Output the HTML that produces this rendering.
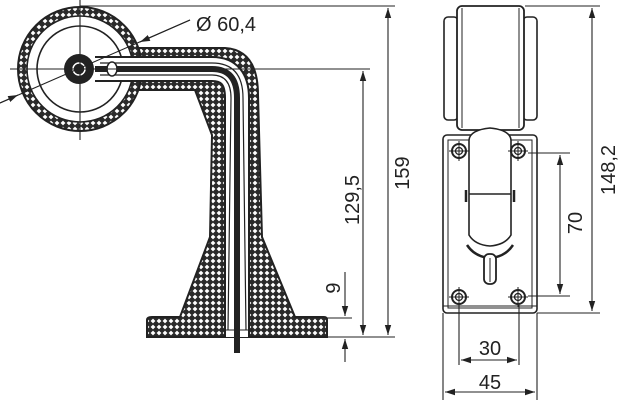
<!DOCTYPE html>
<html><head><meta charset="utf-8"><style>
html,body{margin:0;padding:0;background:#fff;}
svg{display:block;}
text{font-family:"Liberation Sans",Arial,sans-serif;font-size:20px;fill:#222;}
</style></head><body>
<svg width="621" height="400" viewBox="0 0 621 400" xmlns="http://www.w3.org/2000/svg">
<defs>
<pattern id="h" width="6" height="6" patternUnits="userSpaceOnUse">
<rect width="6" height="6" fill="#2a2a2a"/>
<path d="M3 0.6 L5.4 3 L3 5.4 L0.6 3Z" fill="#fff"/>
</pattern>
<marker id="a" markerWidth="10" markerHeight="8" refX="10" refY="4" orient="auto" markerUnits="userSpaceOnUse">
<path d="M0,0.8 L10,4 L0,7.2Z" fill="#222"/></marker>
</defs>
<g stroke="#222" stroke-width="1.3" fill="none">
<path d="M135,48 L225,48 Q258,50 258,95 L262,237 L295,317 L324,317 Q327,317 327,320 L327,337 L147,337 L147,320 Q147,317 152,317 L180,317 L210,237 L212,135 L195,90 L135,90 Z" fill="url(#h)" stroke-width="2"/>
<circle cx="80" cy="69" r="62" fill="url(#h)" stroke-width="2"/>
<circle cx="80" cy="69" r="53" fill="#fff" stroke-width="1.6"/>
<circle cx="80" cy="69" r="43" stroke-width="1.6"/>
<path d="M95,69 L212,69 Q237,69 237,98 L237,337" stroke="#222" stroke-width="26"/>
<path d="M95,69 L212,69 Q237,69 237,98 L237,337" stroke="#fff" stroke-width="22"/>
<path d="M100,63 L212,63 Q243,63 243,98 L246,330" stroke-width="1.2"/>
<path d="M100,75 L212,75 Q231,75 231,98 L228,330" stroke-width="1.2"/>
<path d="M95,69 L212,69 Q237,69 237,98 L237,353" stroke="#222" stroke-width="6"/>
<line x1="222" y1="330" x2="252" y2="330" stroke-width="1"/>
<circle cx="79" cy="69" r="15" fill="#222" stroke="none"/>
<circle cx="79" cy="69" r="6" stroke="#fff" stroke-width="1.5"/>
<ellipse cx="112" cy="69" rx="5" ry="7" fill="#fff" stroke-width="1.5"/>
<line x1="80" y1="0" x2="80" y2="140" stroke-width="1.1"/>
<line x1="10" y1="69" x2="370" y2="69" stroke-width="1.1"/>
<line x1="80" y1="6" x2="395" y2="6" stroke-width="1.1"/>
<line x1="0" y1="103" x2="190" y2="20" stroke-width="1.1"/>
<line x1="0" y1="103" x2="18" y2="95" marker-end="url(#a)" stroke-width="1.1"/>
<line x1="190" y1="20" x2="140" y2="42" marker-end="url(#a)" stroke-width="1.1"/>
<line x1="327" y1="337" x2="395" y2="337" stroke-width="1.1"/>
<line x1="327" y1="318" x2="352" y2="318" stroke-width="1.1"/>
<line x1="388" y1="20" x2="388" y2="8" marker-end="url(#a)" stroke-width="1.1"/>
<line x1="388" y1="20" x2="388" y2="335" marker-end="url(#a)" stroke-width="1.1"/>
<line x1="363" y1="90" x2="363" y2="71" marker-end="url(#a)" stroke-width="1.1"/>
<line x1="363" y1="90" x2="363" y2="335" marker-end="url(#a)" stroke-width="1.1"/>
<line x1="345" y1="272" x2="345" y2="316" marker-end="url(#a)" stroke-width="1.1"/>
<line x1="345" y1="362" x2="345" y2="339" marker-end="url(#a)" stroke-width="1.1"/>
<rect x="443" y="135" width="94" height="178" rx="4" fill="#fff" stroke-width="1.6"/>
<rect x="448" y="140" width="84" height="168" stroke-width="1"/>
<line x1="443" y1="306" x2="537" y2="306" stroke-width="1"/>
<rect x="444" y="17" width="14" height="103" rx="4" fill="#fff" stroke-width="1.6"/>
<rect x="523" y="17" width="14" height="103" rx="4" fill="#fff" stroke-width="1.6"/>
<rect x="457" y="6" width="67" height="124" rx="5" fill="#fff" stroke-width="1.8"/>
<line x1="462" y1="8" x2="462" y2="128" stroke-width="1"/>
<line x1="519" y1="8" x2="519" y2="128" stroke-width="1"/>
<path d="M469,140 Q470,130 490,128 Q510,130 511,140 L511,235 Q505,245 490,246 Q475,245 469,235 Z" fill="#fff" stroke-width="1.6"/>
<line x1="469" y1="194" x2="511" y2="194" stroke-width="1.5"/>
<path d="M466,190 v12 M514,190 v12" stroke-width="2.5"/>
<path d="M467,245 Q475,257 490,258 Q505,257 513,245" stroke-width="2.5"/>
<rect x="484" y="254" width="12" height="30" rx="5" fill="#fff" stroke-width="1.8"/>
<line x1="490" y1="258" x2="490" y2="282" stroke-width="1"/>
<g stroke-width="1.3">
<circle cx="459" cy="151" r="7" fill="#fff" stroke-width="2"/><circle cx="459" cy="151" r="3.5"/>
<circle cx="518" cy="151" r="7" fill="#fff" stroke-width="2"/><circle cx="518" cy="151" r="3.5"/>
<circle cx="459" cy="297" r="7" fill="#fff" stroke-width="2"/><circle cx="459" cy="297" r="3.5"/>
<circle cx="518" cy="297" r="7" fill="#fff" stroke-width="2"/><circle cx="518" cy="297" r="3.5"/>
<path d="M449,151h20M459,141v20M508,151h20M518,141v20M449,297h20M459,287v20M508,297h20M518,287v20" stroke-width="1"/>
</g>
<line x1="525" y1="6" x2="600" y2="6" stroke-width="1.1"/>
<line x1="537" y1="313" x2="600" y2="313" stroke-width="1.1"/>
<line x1="528" y1="153" x2="570" y2="153" stroke-width="1.1"/>
<line x1="528" y1="296" x2="570" y2="296" stroke-width="1.1"/>
<line x1="592" y1="150" x2="592" y2="8" marker-end="url(#a)" stroke-width="1.1"/>
<line x1="592" y1="150" x2="592" y2="311" marker-end="url(#a)" stroke-width="1.1"/>
<line x1="560" y1="220" x2="560" y2="155" marker-end="url(#a)" stroke-width="1.1"/>
<line x1="560" y1="220" x2="560" y2="294" marker-end="url(#a)" stroke-width="1.1"/>
<line x1="459" y1="305" x2="459" y2="365" stroke-width="1.1"/>
<line x1="519" y1="305" x2="519" y2="365" stroke-width="1.1"/>
<line x1="443" y1="313" x2="443" y2="400" stroke-width="1.1"/>
<line x1="537" y1="313" x2="537" y2="400" stroke-width="1.1"/>
<line x1="489" y1="360" x2="461" y2="360" marker-end="url(#a)" stroke-width="1.1"/>
<line x1="489" y1="360" x2="517" y2="360" marker-end="url(#a)" stroke-width="1.1"/>
<line x1="490" y1="392" x2="445" y2="392" marker-end="url(#a)" stroke-width="1.1"/>
<line x1="490" y1="392" x2="535" y2="392" marker-end="url(#a)" stroke-width="1.1"/>
</g>
<text x="196" y="31">Ø 60,4</text>
<text transform="translate(409,173) rotate(-90)" text-anchor="middle">159</text>
<text transform="translate(359,200) rotate(-90)" text-anchor="middle">129,5</text>
<text transform="translate(340,288) rotate(-90)" text-anchor="middle">9</text>
<text transform="translate(615,170) rotate(-90)" text-anchor="middle">148,2</text>
<text transform="translate(582,223) rotate(-90)" text-anchor="middle">70</text>
<text x="490" y="355" text-anchor="middle">30</text>
<text x="490" y="389" text-anchor="middle">45</text>
</svg>
</body></html>
